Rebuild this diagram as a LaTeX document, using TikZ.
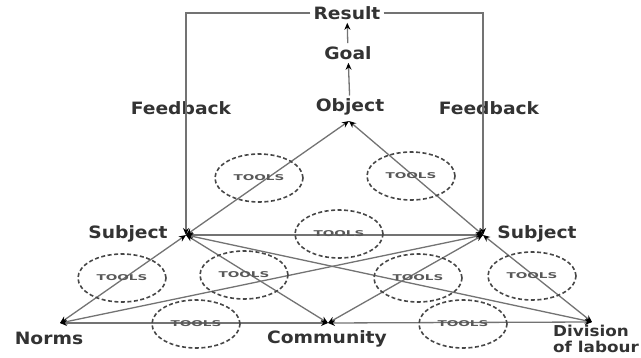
\documentclass[tikz,border=0pt]{standalone}
\usepackage{fontspec}
\usepackage{graphicx}
\setmainfont{DejaVu Sans}
\usetikzlibrary{arrows.meta,shapes.geometric}
\newcommand{\wtxt}[1]{\scalebox{1.1}[1]{#1}}
\newcommand{\dtxt}[1]{\scalebox{1.12}[1]{#1}}
\newcommand{\tooltxt}{\scalebox{1.7}[1]{TOOLS}}
\begin{document}
\begin{tikzpicture}[x=1pt,y=-1pt,
  lab/.style={font=\bfseries\fontsize{17}{15}\selectfont, text=black!80, inner sep=0pt},
  conn/.style={draw=black!55, line width=1.3pt,
    {Stealth[length=7pt,width=6pt,color=black]}-{Stealth[length=7pt,width=6pt,color=black]}},
  fb/.style={draw=black!55, line width=1.3pt, -{Stealth[length=7pt,width=6pt,color=black]}},
  tools/.style={draw=black!72, line width=1.6pt, dash pattern=on 4pt off 2.5pt, ellipse,
    minimum width=88pt, minimum height=48pt, inner sep=0pt,
    font=\bfseries\fontsize{8}{8}\selectfont, text=black!65},
]
\useasboundingbox (0,0) rectangle (641,358);

% labels
\node[lab, inner sep=3pt] (res) at (347,13) {\wtxt{Result}};
\node[lab, inner sep=3pt] (goal) at (348,53) {\wtxt{Goal}};
\node[lab, inner sep=3pt] (objt) at (350,107) {\wtxt{Object}};
\node[lab] (fbl) at (181,108) {\wtxt{Feedback}};
\node[lab] (fbr) at (489,108) {\wtxt{Feedback}};
\node[lab] (subl) at (128,234) {\wtxt{Subject}};
\node[lab] (subr) at (537,234) {\wtxt{Subject}};
\node[lab] (norms) at (49,338) {\wtxt{Norms}};
\node[lab] (comm) at (327,339) {\wtxt{Community}};
\node[lab, font=\bfseries\fontsize{15}{16}\selectfont, align=left, anchor=west] (div) at (553,339) {\dtxt{Division}\\\dtxt{of labour}};

% vertices
\coordinate (O) at (349,121);
\coordinate (SL) at (186,235);
\coordinate (SR) at (483,235);
\coordinate (N) at (60,323);
\coordinate (C) at (328,323);
\coordinate (D) at (592,322);
\coordinate (fl) at (186,13);
\coordinate (fr) at (483,13);

% top chain
\draw[fb] (objt) -- (goal);
\draw[fb] (goal) -- (res);
\draw[fb] (res.west) -- (fl) -- (SL);
\draw[fb] (res.east) -- (fr) -- (SR);

% triangle connectors
\draw[conn] (SL) -- (O);
\draw[conn] (SR) -- (O);
\draw[conn] (SL) -- (SR);
\draw[conn] (SL) -- (N);
\draw[conn] (SL) -- (C);
\draw[conn] (SL) -- (D);
\draw[conn] (SR) -- (N);
\draw[conn] (SR) -- (C);
\draw[conn] (SR) -- (D);
\draw[conn] (N) -- (C);
\draw[conn] (C) -- (D);

% tools
\node[tools] (t1) at (259,178) {\tooltxt};
\node[tools] (t2) at (411,176) {\tooltxt};
\node[tools] (t3) at (339,234) {\tooltxt};
\node[tools] (t4) at (122,278) {\tooltxt};
\node[tools] (t5) at (244,275) {\tooltxt};
\node[tools] (t6) at (196,324) {\tooltxt};
\node[tools] (t7) at (418,278) {\tooltxt};
\node[tools] (t8) at (532,276) {\tooltxt};
\node[tools] (t9) at (463,324) {\tooltxt};
\end{tikzpicture}
\end{document}
